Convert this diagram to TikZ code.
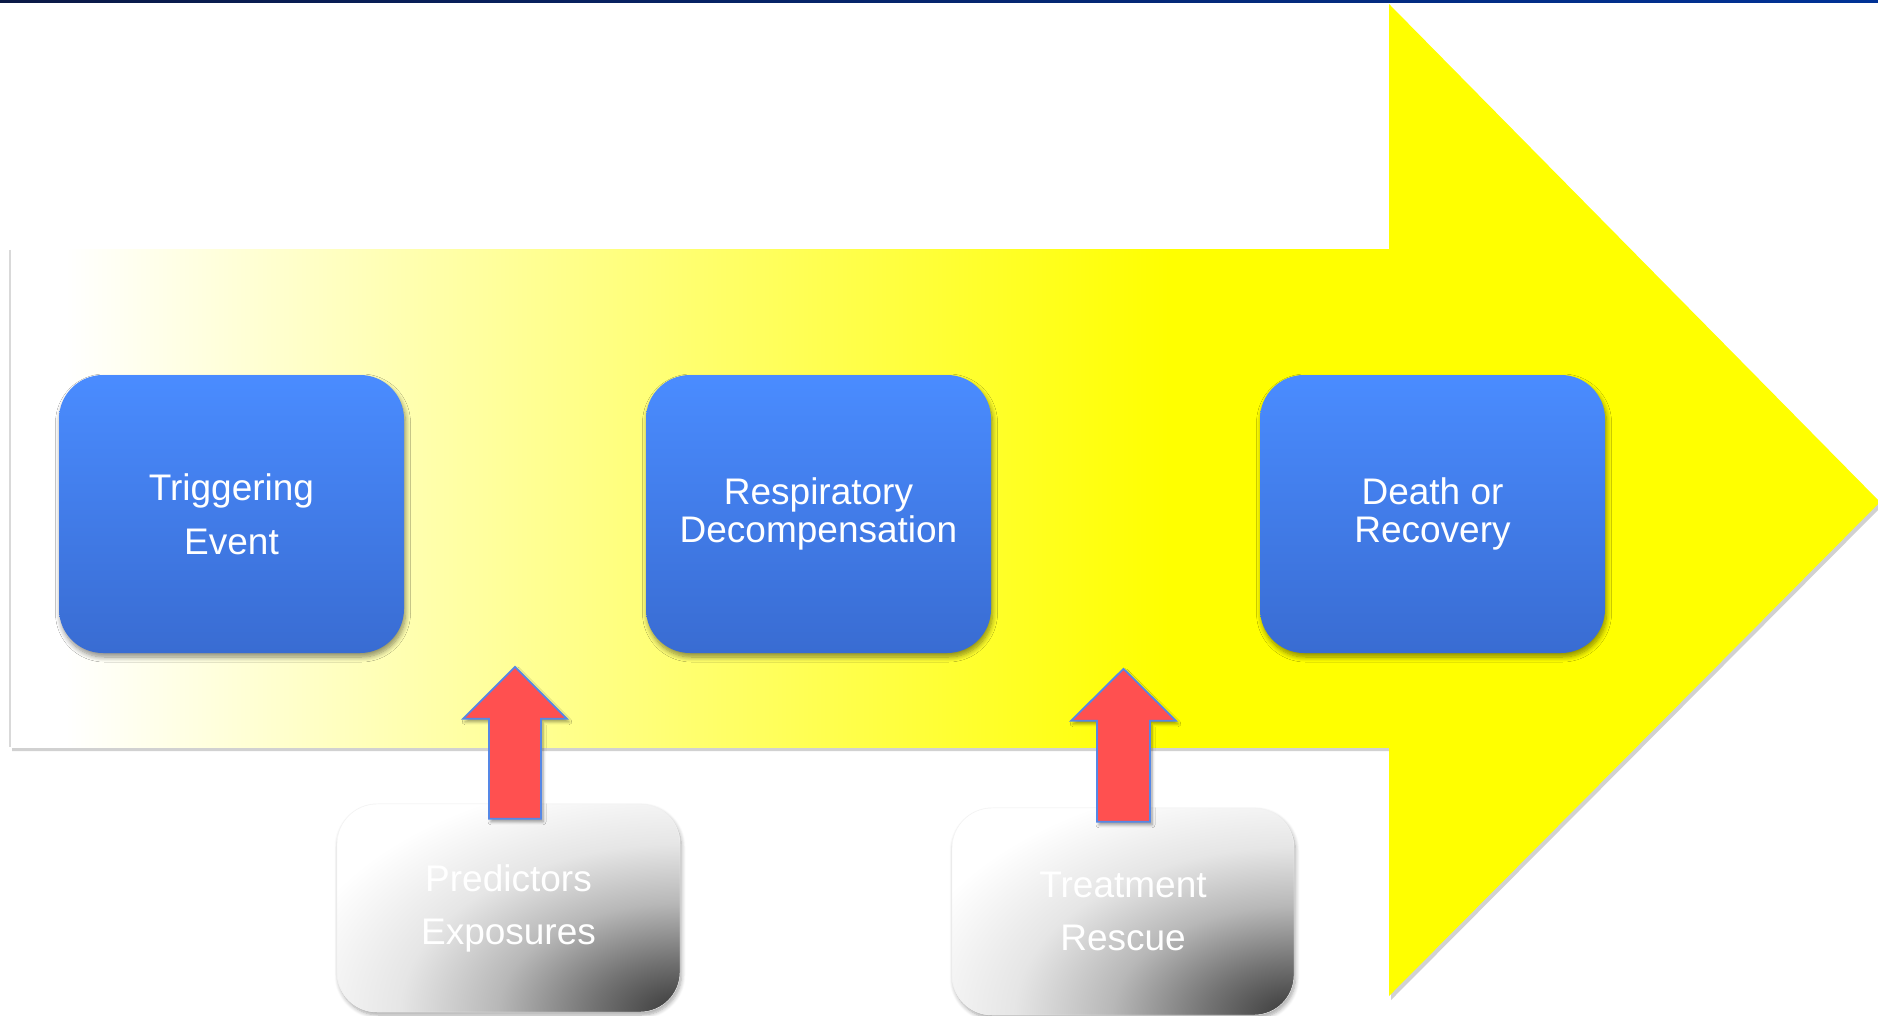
\documentclass[tikz,border=0pt]{standalone}
\usepackage{fontspec}
\setmainfont{Liberation Sans}
\usetikzlibrary{shadows,shadows.blur,calc}
\definecolor{boxtop}{RGB}{74,140,255}
\definecolor{boxbot}{RGB}{57,108,210}
\definecolor{redfill}{RGB}{255,80,80}
\definecolor{redline}{RGB}{85,135,230}
\definecolor{navyL}{RGB}{10,25,70}
\definecolor{navyR}{RGB}{0,50,150}
\definecolor{yel}{RGB}{255,255,0}
\pgfdeclarehorizontalshading{shaftshade}{100bp}{color(0bp)=(white); color(27bp)=(white); color(67bp)=(yel); color(100bp)=(yel)}
\pgfdeclareradialshading{greycorner}{\pgfpoint{0bp}{0bp}}{color(0bp)=(black!78); color(3.1bp)=(black!55); color(6.5bp)=(black!28); color(10bp)=(black!10); color(14.3bp)=(white); color(50bp)=(white)}
\begin{document}
\begin{tikzpicture}[x=1pt,y=-1pt,
  bluebox/.style={rounded corners=44pt, minimum width=345pt, minimum height=278pt, inner sep=0pt,
    top color=boxtop, bottom color=boxbot, text=white, align=center,
    blur shadow={shadow xshift=1.5pt, shadow yshift=-4pt, shadow blur radius=5pt, shadow blur steps=8, shadow opacity=45}},
  greybox/.style={rounded corners=40pt, minimum width=343pt, minimum height=208pt, inner sep=0pt,
    fill=white, draw=black!6, text=white, align=center,
    font=\fontsize{37}{53}\selectfont,
    blur shadow={shadow xshift=1.5pt, shadow yshift=-3pt, shadow blur radius=4pt, shadow blur steps=6, shadow opacity=35},
    path picture={\shade[shading=greycorner]
      (path picture bounding box.south east) ellipse (700pt and 420pt);}},
  redarrow/.style={fill=redfill, draw=redline, line width=1.8pt, line join=miter,
    blur shadow={shadow xshift=2pt, shadow yshift=-3pt, shadow blur radius=3pt, shadow blur steps=5, shadow opacity=40}}
]
\useasboundingbox (0,0) rectangle (1878,1016);
% top rule
\shade[left color=navyL, right color=navyR] (0,0) rectangle (1878,2.5);
% big arrow
\fill[yel, drop shadow={shadow xshift=2pt, shadow yshift=-4pt, opacity=.3, fill=black!60}]
  (10,250) -- (1389,250) -- (1389,4) -- (1880,502) -- (1389,996) -- (1389,747) -- (10,747) -- cycle;
\shade[shading=shaftshade] (10,250) rectangle (1389.5,747);
\draw[black!15, line width=2pt] (10,250) -- (10,747);
% blue boxes
\node[bluebox, font=\fontsize{37}{54}\selectfont] (trig) at (231.5,514) {Triggering\\Event};
\node[bluebox, font=\fontsize{37}{38}\selectfont] (resp) at (818.5,514) {Respiratory\\Decompensation};
\node[bluebox, font=\fontsize{37}{38}\selectfont] (death) at (1432.5,514) {Death or\\Recovery};
% grey boxes
\node[greybox] (pred) at (508.5,908) {Predictors\\Exposures};
\node[greybox, minimum width=342pt, minimum height=207pt] (treat) at (1123,911.5) {Treatment\\Rescue};
% red arrows
\coordinate (a1) at ($(pred.north)+(6.5,15)$);
\coordinate (a2) at ($(treat.north)+(0.5,14)$);
\draw[redarrow, shift={(a1)}] (-26,0) -- (-26,-100) -- (-52,-100) -- (0,-152) -- (52,-100) -- (26,-100) -- (26,0) -- cycle;
\draw[redarrow, shift={(a2)}] (-26.5,0) -- (-26.5,-101) -- (-52.5,-101) -- (0,-153) -- (52.5,-101) -- (26.5,-101) -- (26.5,0) -- cycle;
\end{tikzpicture}
\end{document}
